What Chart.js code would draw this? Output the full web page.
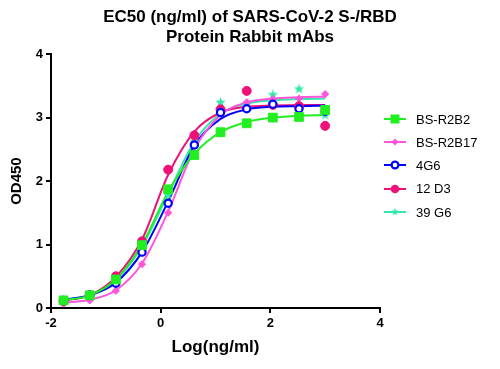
<!DOCTYPE html>
<html>
<head>
<meta charset="utf-8">
<script src="https://cdn.jsdelivr.net/npm/chart.js@4/dist/chart.umd.min.js"></script>
<style>
  html, body { margin: 0; padding: 0; background: #fff; }
  #wrap { position: relative; width: 500px; height: 369px; }
  #legend { position: absolute; left: 0; top: 0; width: 500px; height: 369px; pointer-events: none;
            font-family: "Liberation Sans", Arial, sans-serif; font-size: 13px; color: #000; }
  .row { position: absolute; left: 384px; height: 16px; display: flex; align-items: center; }
  .row svg { margin-right: 10px; }
</style>
</head>
<body>
<div id="wrap">
  <canvas id="c" width="500" height="369"></canvas>
  <div id="legend"></div>
</div>
<script>
// ---- data ----
const logConc = [-1.771, -1.294, -0.817, -0.340, 0.137, 0.614, 1.092, 1.569, 2.046, 2.523, 3.000];
const seriesNames = ['BS-R2B2', 'BS-R2B17', '4G6', '12 D3', '39 G6'];
// measured points
const ptsR2B2  = [0.12, 0.20, 0.45, 0.99, 1.87, 2.41, 2.77, 2.91, 3.00, 3.01, 3.12];
const ptsR2B17 = [0.07, 0.12, 0.27, 0.69, 1.50, 2.55, 3.12, 3.24, 3.29, 3.30, 3.37];
const pts4G6   = [0.12, 0.20, 0.39, 0.88, 1.65, 2.57, 3.08, 3.14, 3.21, 3.14, 3.10];
const pts12D3  = [0.11, 0.20, 0.50, 1.05, 2.18, 2.72, 3.13, 3.42, 3.20, 3.18, 2.87];
const pts39G6  = [0.12, 0.20, 0.45, 0.96, 1.78, 2.62, 3.24, 3.20, 3.36, 3.45, 3.04];
// fitted curves at the same concentrations
const fitR2B2  = [0.12, 0.20, 0.45, 1.00, 1.83, 2.43, 2.77, 2.93, 3.00, 3.03, 3.04];
const fitR2B17 = [0.08, 0.13, 0.28, 0.70, 1.52, 2.50, 3.04, 3.24, 3.30, 3.32, 3.33];
const fit4G6   = [0.13, 0.20, 0.40, 0.88, 1.68, 2.56, 2.98, 3.13, 3.17, 3.18, 3.19];
const fit12D3  = [0.12, 0.20, 0.49, 1.08, 2.10, 2.78, 3.08, 3.17, 3.19, 3.20, 3.20];
const fit39G6  = [0.12, 0.20, 0.44, 0.97, 1.80, 2.62, 3.06, 3.22, 3.27, 3.29, 3.30];
const xTicks = [-2, 0, 2, 4];
const yTicks = [0, 1, 2, 3, 4];

// ---- styles ----
const colors = ['#22ee22', '#ff55dd', '#0000ff', '#ee1177', '#33e8a8'];
const pointSets = [ptsR2B2, ptsR2B17, pts4G6, pts12D3, pts39G6];
const fitSets = [fitR2B2, fitR2B17, fit4G6, fit12D3, fit39G6];

function starCanvas(color, size) {
  const c = document.createElement('canvas');
  c.width = size; c.height = size;
  const g = c.getContext('2d');
  const cx = size / 2, cy = size / 2, R = size / 2, r = R * 0.42;
  g.beginPath();
  for (let i = 0; i < 10; i++) {
    const a = -Math.PI / 2 + i * Math.PI / 5;
    const rr = i % 2 === 0 ? R : r;
    g.lineTo(cx + rr * Math.cos(a), cy + rr * Math.sin(a));
  }
  g.closePath();
  g.fillStyle = color; g.fill();
  return c;
}
const starImg = starCanvas(colors[4], 11);

const pointStyles = [
  { pointStyle: 'rect', radius: 6.2, bg: colors[0], border: colors[0], bw: 1 },
  { pointStyle: 'rectRot', radius: 3.6, bg: colors[1], border: colors[1], bw: 1 },
  { pointStyle: 'circle', radius: 3.6, bg: '#ffffff', border: colors[2], bw: 2.2 },
  { pointStyle: 'circle', radius: 4.5, bg: colors[3], border: colors[3], bw: 1 },
  { pointStyle: starImg, radius: 5.5, bg: colors[4], border: colors[4], bw: 1 }
];

const datasets = [];
for (let s = 0; s < 5; s++) {
  datasets.push({
    label: seriesNames[s] + ' fit',
    data: logConc.map((x, i) => ({ x: x, y: fitSets[s][i] })),
    showLine: true,
    borderColor: colors[s],
    borderWidth: 2,
    pointRadius: 0,
    cubicInterpolationMode: 'monotone',
    order: 10 + s
  });
}
// lower order = drawn on top: green, blue, red, pink, cyan
const pointOrder = [0, 3, 1, 2, 4];
for (let s = 0; s < 5; s++) {
  const ps = pointStyles[s];
  datasets.push({
    label: seriesNames[s],
    data: logConc.map((x, i) => ({ x: x, y: pointSets[s][i] })),
    showLine: false,
    pointStyle: ps.pointStyle,
    pointRadius: ps.radius,
    pointBackgroundColor: ps.bg,
    pointBorderColor: ps.border,
    pointBorderWidth: ps.bw,
    order: pointOrder[s]
  });
}

const FONT = '"Liberation Sans", Arial, sans-serif';

// reserves 120px on the right for the legend without shrinking the title box
const rightSpacer = {
  id: 'rightSpacer',
  beforeInit(chart) {
    const box = {
      position: 'right', weight: 0, fullSize: false,
      options: {},
      left: 0, top: 0, right: 0, bottom: 0, width: 0, height: 0,
      update(maxWidth, maxHeight) { this.width = 120; this.height = maxHeight; },
      isHorizontal() { return false; },
      draw() {}
    };
    Chart.layouts.addBox(chart, box);
  }
};

new Chart(document.getElementById('c'), {
  type: 'scatter',
  data: { datasets: datasets },
  plugins: [rightSpacer],
  options: {
    responsive: false,
    animation: false,
    devicePixelRatio: 1,
    layout: { padding: 0 },
    plugins: {
      legend: { display: false },
      tooltip: { enabled: false },
      title: {
        display: true,
        text: ['EC50 (ng/ml) of SARS-CoV-2 S-/RBD', 'Protein Rabbit mAbs'],
        color: '#000',
        font: { family: FONT, size: 17, weight: 'bold', lineHeight: 1.18 },
        padding: { top: 7, bottom: 7 }
      }
    },
    scales: {
      x: {
        type: 'linear',
        min: -2, max: 4,
        afterBuildTicks: (sc) => { sc.ticks = xTicks.map(v => ({ value: v })); },
        afterFit: (sc) => { sc.height = 61; },
        ticks: { color: '#000', font: { family: FONT, size: 13, weight: 'bold' }, padding: 3, maxRotation: 0 },
        grid: { drawOnChartArea: false, drawTicks: true, tickLength: 5, color: '#000', lineWidth: 2 },
        border: { display: true, color: '#000', width: 2 },
        title: { display: true, text: 'Log(ng/ml)', color: '#000',
                 font: { family: FONT, size: 17, weight: 'bold' }, padding: { top: 4, bottom: 11 } }
      },
      y: {
        type: 'linear',
        min: 0, max: 4,
        afterBuildTicks: (sc) => { sc.ticks = yTicks.map(v => ({ value: v })); },
        afterFit: (sc) => { sc.width = 51; },
        ticks: { color: '#000', font: { family: FONT, size: 13, weight: 'bold' }, padding: 3 },
        grid: { drawOnChartArea: false, drawTicks: true, tickLength: 5, color: '#000', lineWidth: 2 },
        border: { display: true, color: '#000', width: 2 },
        title: { display: true, text: 'OD450', color: '#000',
                 font: { family: FONT, size: 15, weight: 'bold' }, padding: { top: 8, bottom: 4 } }
      }
    }
  }
});

// ---- HTML legend ----
function iconSVG(s) {
  const c = colors[s];
  let marker = '';
  if (s === 0) marker = `<rect x="6.5" y="3.5" width="9" height="9" fill="${c}"/>`;
  if (s === 1) marker = `<polygon points="11,4.5 14.5,8 11,11.5 7.5,8" fill="${c}"/>`;
  if (s === 2) marker = `<circle cx="11" cy="8" r="3.4" fill="#fff" stroke="${c}" stroke-width="2.2"/>`;
  if (s === 3) marker = `<circle cx="11" cy="8" r="4.3" fill="${c}"/>`;
  if (s === 4) {
    const pts = [];
    for (let i = 0; i < 10; i++) {
      const a = -Math.PI / 2 + i * Math.PI / 5;
      const rr = i % 2 === 0 ? 4 : 1.7;
      pts.push((11 + rr * Math.cos(a)).toFixed(2) + ',' + (8 + rr * Math.sin(a)).toFixed(2));
    }
    marker = `<polygon points="${pts.join(' ')}" fill="${c}"/>`;
  }
  return `<svg width="22" height="16" viewBox="0 0 22 16"><line x1="0" y1="8" x2="22" y2="8" stroke="${c}" stroke-width="2"/>${marker}</svg>`;
}
const legendRowY = [119, 142, 165, 188.5, 212];
const leg = document.getElementById('legend');
for (let s = 0; s < 5; s++) {
  const row = document.createElement('div');
  row.className = 'row';
  row.style.top = (legendRowY[s] - 8) + 'px';
  row.innerHTML = iconSVG(s) + '<span>' + seriesNames[s] + '</span>';
  leg.appendChild(row);
}
</script>
</body>
</html>
